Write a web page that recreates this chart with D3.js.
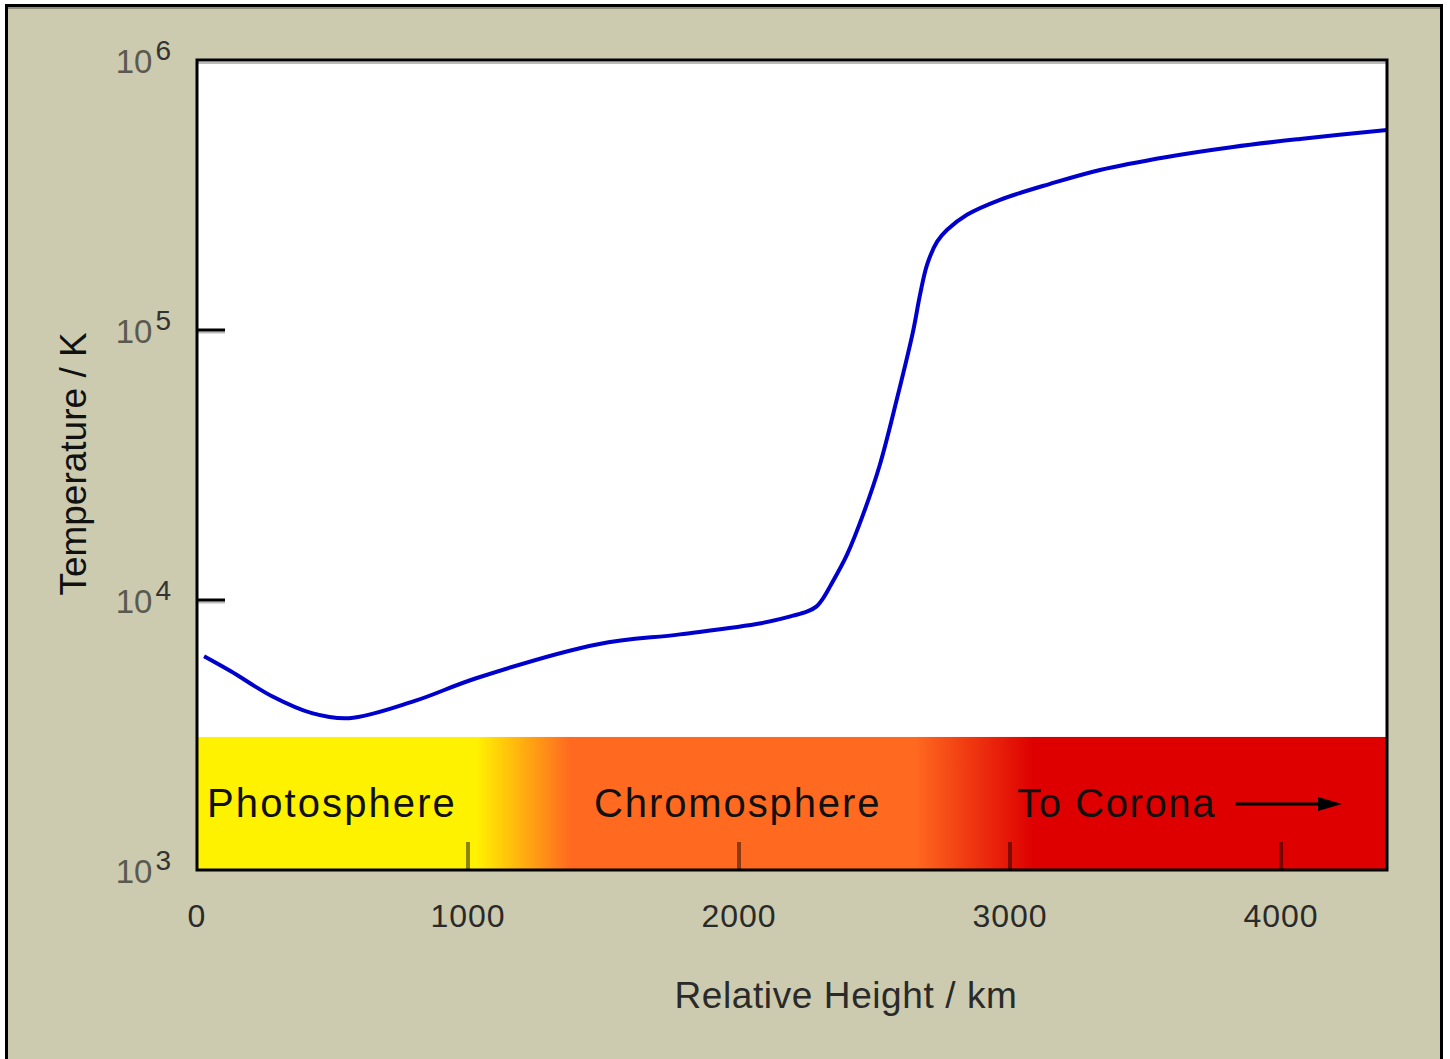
<!DOCTYPE html>
<html>
<head>
<meta charset="utf-8">
<script src="https://cdn.jsdelivr.net/npm/d3@7"></script>
<style>
  body { margin: 0; background: #fff; }
  svg { display: block; font-family: "Liberation Sans", Arial, sans-serif; }
</style>
</head>
<body>
<svg id="chart"></svg>
<script>
// height above photosphere (km) and temperature (K)
const heightKm = [26, 125, 277, 424, 561, 801, 1030, 1480, 1782, 2081, 2200, 2250, 2285, 2310, 2336, 2399,
  2458, 2520, 2583, 2642, 2668, 2694, 2731, 2768, 2841, 2963, 3148, 3332, 3579, 3823, 4070, 4391];
const tempK = [6190, 5445, 4400, 3810, 3650, 4220, 5130, 6860, 7460, 8200, 8750, 9050, 9450, 10140, 11230, 14760,
  20750, 31770, 55720, 98600, 135200, 174600, 212400, 235000, 267200, 303500, 347800, 391600,
  437600, 476500, 510000, 551000];

const xTicks = [0, 1000, 2000, 3000, 4000];
const yTicks = [1e3, 1e4, 1e5, 1e6];

const regions = ['Photosphere', 'Chromosphere', 'To Corona'];
const regionStartKm = [37, 1465, 3026];
// where the band colours blend: yellow -> orange, orange -> red
const blendKm = [1030, 1376, 2646, 3085];

(function () {
  'use strict';

  const width = 1450;
  const height = 1059;
  const plot = { left: 197, right: 1387, top: 60, bottom: 870 };

  const x = d3.scaleLinear()
    .domain([0, 4391])
    .range([plot.left, plot.right]);

  const y = d3.scaleLog()
    .domain([1e3, 1e6])
    .range([plot.bottom, plot.top]);

  const svg = d3.select('#chart')
    .attr('width', width)
    .attr('height', height);

  // beige panel
  svg.append('rect')
    .attr('x', 6.5).attr('y', 5.5)
    .attr('width', 1435).attr('height', 1080)
    .attr('fill', '#cccbaf')
    .attr('stroke', '#000')
    .attr('stroke-width', 3);
  svg.append('line')
    .attr('x1', 8).attr('x2', 1440).attr('y1', 8).attr('y2', 8)
    .attr('stroke', '#8f8e7a').attr('stroke-width', 2);

  // plot area
  svg.append('rect')
    .attr('x', plot.left).attr('y', plot.top)
    .attr('width', plot.right - plot.left).attr('height', plot.bottom - plot.top)
    .attr('fill', '#fff');

  const defs = svg.append('defs');
  const grad = defs.append('linearGradient')
    .attr('id', 'band')
    .attr('gradientUnits', 'userSpaceOnUse')
    .attr('x1', x(0)).attr('x2', x(4391))
    .attr('y1', 0).attr('y2', 0);
  const bandColors = ['#fff200', '#ff6a20', '#ff6a20', '#de0000'];
  blendKm.forEach((km, i) => {
    grad.append('stop')
      .attr('offset', (x(km) - x(0)) / (x(4391) - x(0)))
      .attr('stop-color', bandColors[i]);
  });

  const bandTop = y(3110);
  svg.append('rect')
    .attr('x', plot.left).attr('y', bandTop)
    .attr('width', plot.right - plot.left).attr('height', plot.bottom - bandTop)
    .attr('fill', 'url(#band)');

  // x ticks, drawn inward on the band
  svg.append('g')
    .selectAll('line')
    .data(xTicks.slice(1))
    .join('line')
    .attr('x1', d => x(d)).attr('x2', d => x(d))
    .attr('y1', plot.bottom).attr('y2', plot.bottom - 28)
    .attr('stroke', 'rgba(0,0,0,0.45)')
    .attr('stroke-width', 4);

  // y ticks with grey shadow
  const yInner = yTicks.slice(1, -1);
  svg.append('g')
    .selectAll('line')
    .data(yInner)
    .join('line')
    .attr('x1', plot.left).attr('x2', plot.left + 28)
    .attr('y1', d => y(d) + 2.5).attr('y2', d => y(d) + 2.5)
    .attr('stroke', '#bbb').attr('stroke-width', 2);
  svg.append('g')
    .selectAll('line')
    .data(yInner)
    .join('line')
    .attr('x1', plot.left).attr('x2', plot.left + 28)
    .attr('y1', d => y(d)).attr('y2', d => y(d))
    .attr('stroke', '#000').attr('stroke-width', 3);

  // temperature curve
  const line = d3.line()
    .x((d, i) => x(heightKm[i]))
    .y(d => y(d))
    .curve(d3.curveCatmullRom.alpha(0.5));

  svg.append('path')
    .attr('d', line(tempK))
    .attr('fill', 'none')
    .attr('stroke', '#0000cc')
    .attr('stroke-width', 4);

  // frame
  svg.append('line')
    .attr('x1', plot.left).attr('x2', plot.right)
    .attr('y1', plot.top + 3).attr('y2', plot.top + 3)
    .attr('stroke', '#bbb').attr('stroke-width', 2);
  svg.append('rect')
    .attr('x', plot.left).attr('y', plot.top)
    .attr('width', plot.right - plot.left).attr('height', plot.bottom - plot.top)
    .attr('fill', 'none')
    .attr('stroke', '#000')
    .attr('stroke-width', 3);

  // region labels
  svg.append('g')
    .selectAll('text')
    .data(regions)
    .join('text')
    .attr('x', (d, i) => x(regionStartKm[i]))
    .attr('y', 817)
    .attr('font-size', 40)
    .attr('fill', '#111')
    .attr('letter-spacing', (d, i) => [2.1, 1.9, 1.6][i])
    .text(d => d);

  svg.append('line')
    .attr('x1', 1235).attr('x2', 1325)
    .attr('y1', 804).attr('y2', 804)
    .attr('stroke', '#000').attr('stroke-width', 3);
  svg.append('path')
    .attr('d', 'M1342,804 L1318,797 L1318,811 Z')
    .attr('fill', '#000');

  // x tick labels
  svg.append('g')
    .selectAll('text')
    .data(xTicks)
    .join('text')
    .attr('x', d => x(d))
    .attr('y', 927)
    .attr('text-anchor', 'middle')
    .attr('font-size', 32)
    .attr('letter-spacing', 1)
    .attr('fill', '#2a2a2a')
    .text(d => d);

  // y tick labels as powers of ten
  const yLabels = svg.append('g')
    .selectAll('text')
    .data(yTicks)
    .join('text')
    .attr('x', 171)
    .attr('y', d => y(d) + 13)
    .attr('text-anchor', 'end')
    .attr('fill', '#5a5a50')
    .attr('font-size', 33);
  yLabels.append('tspan').text('10');
  yLabels.append('tspan')
    .attr('dy', -13)
    .attr('dx', 3)
    .attr('font-size', 28)
    .attr('fill', '#333')
    .text(d => Math.round(Math.log10(d)));

  // axis titles
  svg.append('text')
    .attr('transform', 'translate(86,464) rotate(-90)')
    .attr('text-anchor', 'middle')
    .attr('font-size', 37)
    .attr('fill', '#111')
    .text('Temperature / K');

  svg.append('text')
    .attr('x', 846)
    .attr('y', 1008)
    .attr('text-anchor', 'middle')
    .attr('font-size', 37)
    .attr('letter-spacing', 0.6)
    .attr('fill', '#2a2a2a')
    .text('Relative Height / km');
})();
</script>
</body>
</html>
